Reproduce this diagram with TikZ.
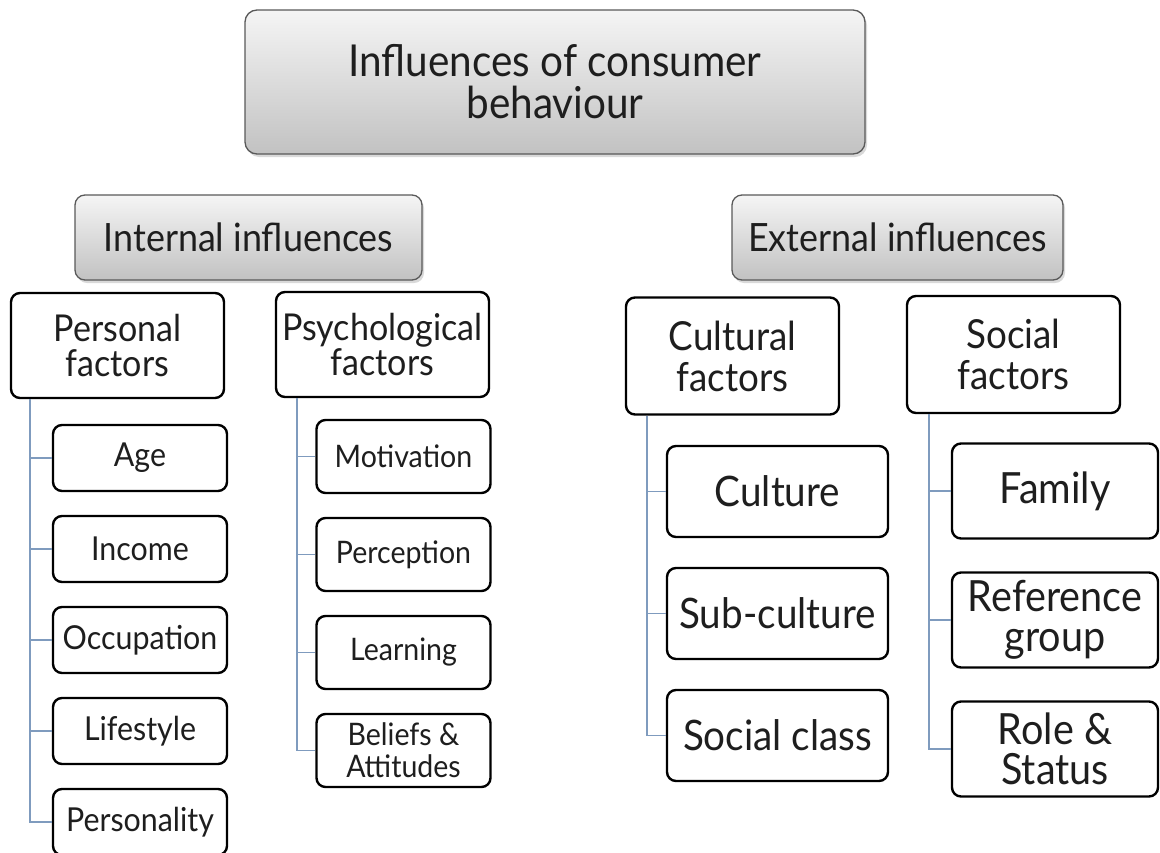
\documentclass[tikz,border=0pt]{standalone}
\usepackage{fontspec}
\setmainfont{Lato}[FakeStretch=0.92]
\usetikzlibrary{positioning,shadows}

\definecolor{linkblue}{HTML}{7F9BBE}
\definecolor{inktext}{HTML}{1E1E1E}

\tikzset{
  head/.style={draw=black!65, line width=1.3pt, rounded corners=10pt,
    top color=black!4, bottom color=black!24,
    drop shadow={shadow xshift=2pt, shadow yshift=-3pt, opacity=0.3},
    align=center, text=inktext, inner sep=0pt, minimum height=85pt,
    font=\fontsize{39}{41}\selectfont},
  box/.style={draw=black, line width=2.4pt, rounded corners=9pt, fill=white,
    align=center, text=inktext, inner sep=0pt},
  lfactor/.style={box, minimum width=213pt, minimum height=105pt,
    font=\fontsize{37}{35}\selectfont},
  rfactor/.style={box, minimum width=213pt, minimum height=117pt,
    font=\fontsize{40}{41}\selectfont},
  litem/.style={box, minimum width=174pt, minimum height=66pt,
    font=\fontsize{33}{33}\selectfont},
  pitem/.style={litem, minimum height=73pt, font=\fontsize{31}{32}\selectfont},
  citem/.style={box, minimum width=221pt, minimum height=91pt,
    font=\fontsize{42}{40}\selectfont},
  sitem/.style={citem, minimum width=206pt, minimum height=95pt,
    font=\fontsize{43}{40}\selectfont},
  link/.style={draw=linkblue, line width=1.4pt},
}

\begin{document}
\begin{tikzpicture}[x=1pt,y=-1pt,on grid]
  \useasboundingbox (0,0) rectangle (1160,852);

  % top of the tree
  \node[head, minimum width=620pt, minimum height=144pt, rounded corners=12pt,
        font=\fontsize{44}{42}\selectfont] (top) at (555,82) {Influences of consumer\\behaviour};
  \node[head, minimum width=347pt] (internal) at (248.5,237.5) {Internal influences};
  \node[head, minimum width=331pt] (external) at (897.5,237.5) {External influences};

  % factor groups
  \node[lfactor] (personal) at (117.5,345.5) {Personal\\factors};
  \node[lfactor] (psycho) at (382.5,344.5) {Psychological\\factors};
  \node[rfactor] (cultural) at (732.5,356) {Cultural\\factors};
  \node[rfactor] (social) at (1013.5,354.5) {Social\\factors};

  % personal factors
  \node[litem] (age) at (140,458) {Age};
  \node[litem, below=91pt of age] (income) {Income};
  \node[litem, below=91pt of income] (occupation) {Occupation};
  \node[litem, below=91pt of occupation] (lifestyle) {Lifestyle};
  \node[litem, below=91pt of lifestyle] (personality) {Personality};

  % psychological factors
  \node[pitem] (motivation) at (403.5,456.5) {Motivation};
  \node[pitem, below=98pt of motivation] (perception) {Perception};
  \node[pitem, below=98pt of perception] (learning) {Learning};
  \node[pitem, below=98pt of learning] (beliefs) {Beliefs \&\\Attitudes};

  % cultural factors
  \node[citem] (culture) at (777.5,491.5) {Culture};
  \node[citem, below=122pt of culture] (subculture) {Sub-culture};
  \node[citem, below=122pt of subculture] (class) {Social class};

  % social factors
  \node[sitem] (family) at (1055,491) {Family};
  \node[sitem, below=129pt of family] (refgroup) {Reference\\group};
  \node[sitem, below=129pt of refgroup] (role) {Role \&\\Status};

  % spines
  \coordinate (personal-spine) at ([xshift=20pt]personal.south west);
  \coordinate (psycho-spine) at ([xshift=22pt]psycho.south west);
  \coordinate (cultural-spine) at ([xshift=22pt]cultural.south west);
  \coordinate (social-spine) at ([xshift=23pt]social.south west);

  \draw[link] (personal-spine) |- (personality.west);
  \foreach \n in {age,income,occupation,lifestyle}
    \draw[link] (personal-spine |- \n.west) -- (\n.west);

  \draw[link] (psycho-spine) |- (beliefs.west);
  \foreach \n in {motivation,perception,learning}
    \draw[link] (psycho-spine |- \n.west) -- (\n.west);

  \draw[link] (cultural-spine) |- (class.west);
  \foreach \n in {culture,subculture}
    \draw[link] (cultural-spine |- \n.west) -- (\n.west);

  \draw[link] (social-spine) |- (role.west);
  \foreach \n in {family,refgroup}
    \draw[link] (social-spine |- \n.west) -- (\n.west);
\end{tikzpicture}
\end{document}
